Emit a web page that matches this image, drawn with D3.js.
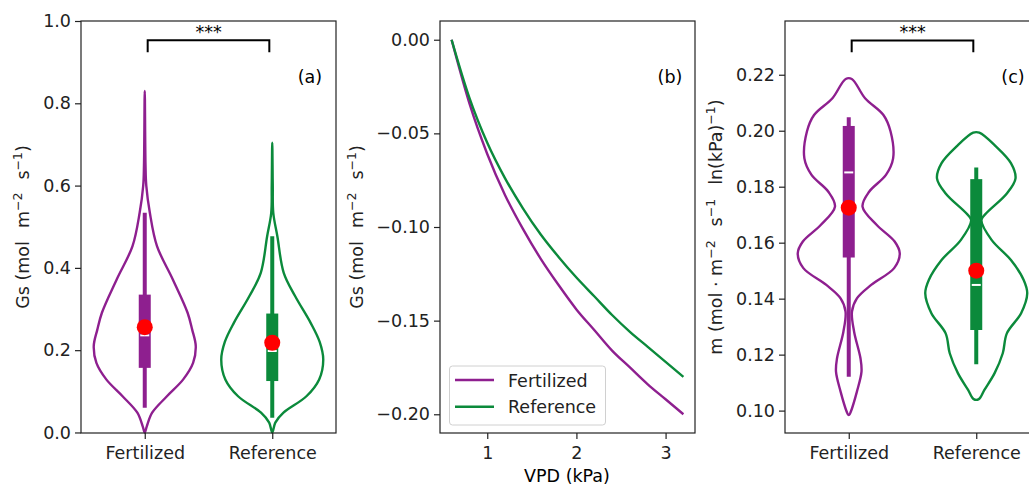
<!DOCTYPE html>
<html>
<head>
<meta charset="utf-8">
<script src="https://cdn.jsdelivr.net/npm/d3@7"></script>
<style>
  html, body { margin: 0; padding: 0; background: #fff; }
  svg { display: block; font-family: "DejaVu Sans", sans-serif; }
</style>
</head>
<body>
<svg id="chart" width="1029" height="485"></svg>
<script>
// ---------------- DATA ----------------
const groups = ["Fertilized", "Reference"];

// Panel (a): Gs violin outlines (value, relative density)
const gsFertV = [0, 0.015, 0.048, 0.088, 0.129, 0.169, 0.21, 0.25, 0.291, 0.372, 0.453, 0.534, 0.60, 0.65, 0.83];
const gsFertD = [0, 0.04, 0.145, 0.435, 0.755, 0.948, 1.0, 0.93, 0.84, 0.55, 0.24, 0.10, 0.03, 0.015, 0];
const gsRefV = [0, 0.024, 0.048, 0.088, 0.129, 0.177, 0.22, 0.267, 0.331, 0.388, 0.477, 0.534, 0.60, 0.704];
const gsRefD = [0, 0.06, 0.22, 0.67, 0.92, 1.0, 0.93, 0.75, 0.45, 0.225, 0.10, 0.02, 0.01, 0];
// Panel (a) box stats: [whiskerLow, Q1, median, Q3, whiskerHigh]
const gsFertBox = [0.060, 0.157, 0.236, 0.335, 0.534];
const gsRefBox = [0.036, 0.125, 0.198, 0.289, 0.477];
const gsMeans = [0.256, 0.218];
const gsTicks = [0.0, 0.2, 0.4, 0.6, 0.8, 1.0];

// Panel (b): Gs response vs VPD
const vpd = [0.6, 0.8, 1.0, 1.2, 1.4, 1.6, 1.8, 2.0, 2.2, 2.4, 2.6, 2.8, 3.0, 3.2];
const gsFertLine = [0, -0.034, -0.061, -0.083, -0.101, -0.117, -0.131, -0.144, -0.155, -0.166, -0.175, -0.184, -0.192, -0.200];
const gsRefLine = [0, -0.031, -0.055, -0.074, -0.090, -0.104, -0.116, -0.127, -0.137, -0.147, -0.156, -0.164, -0.172, -0.180];
const vpdTicks = [1, 2, 3];
const gsLineTicks = [0.00, -0.05, -0.10, -0.15, -0.20];

// Panel (c): m violin outlines
const mFertV = [0.0985, 0.0996, 0.1068, 0.1139, 0.1187, 0.1282, 0.1354, 0.1401, 0.1449, 0.1509, 0.1562, 0.1604, 0.1663, 0.1729, 0.1782, 0.1842, 0.1901, 0.1997, 0.2056, 0.2116, 0.2185];
const mFertD = [0.01, 0.04, 0.16, 0.25, 0.23, 0.105, 0.063, 0.16, 0.44, 0.89, 1.0, 0.90, 0.55, 0.27, 0.40, 0.73, 0.87, 0.82, 0.68, 0.32, 0.06];
const mRefV = [0.1041, 0.1074, 0.1134, 0.1205, 0.1276, 0.1348, 0.1419, 0.1467, 0.1538, 0.1610, 0.1681, 0.1705, 0.1776, 0.1830, 0.1884, 0.1943, 0.1993];
const mRefD = [0.05, 0.16, 0.36, 0.52, 0.60, 0.88, 1.0, 0.93, 0.68, 0.30, 0.10, 0.195, 0.60, 0.77, 0.68, 0.39, 0.06];
const mFertBox = [0.1121, 0.1547, 0.1851, 0.2017, 0.2048];
const mRefBox = [0.1166, 0.1288, 0.1449, 0.1827, 0.1869];
const mMeans = [0.1725, 0.1500];
const mTicks = [0.10, 0.12, 0.14, 0.16, 0.18, 0.20, 0.22];

const colors = ["#8e1f8f", "#0b8a3b"];

// ---------------- DRAWING ----------------
const svg = d3.select("#chart");
svg.append("rect").attr("width", 1029).attr("height", 485).attr("fill", "#fff");

const FS = 17.5;
const yTop = 21, yBot = 433;
const LW = 2.4;
const minus = s => s.replace(/-/g, "\u2212");

function frame(g, x0, x1) {
  g.append("rect").attr("x", x0).attr("y", yTop).attr("width", x1 - x0).attr("height", yBot - yTop)
    .attr("fill", "none").attr("stroke", "#222").attr("stroke-width", 1.2);
}
function styleAxis(sel) {
  sel.select(".domain").remove();
  sel.selectAll(".tick line").attr("stroke", "#222").attr("stroke-width", 1.2);
  sel.selectAll(".tick text").attr("fill", "#222").attr("font-size", FS).attr("font-family", "DejaVu Sans");
}

function violinPanel(x0, x1, yDomain, ticks, fmt, violins, boxes, means, bracket) {
  const g = svg.append("g");
  const x = d3.scaleLinear().domain([0.5, 2.5]).range([x0, x1]);
  const y = d3.scaleLinear().domain(yDomain).range([yBot, yTop]);
  const unit = x(1) - x(0);
  const half = 0.4;
  const path = d3.line().curve(d3.curveCatmullRomClosed.alpha(0.5));

  violins.forEach((vd, i) => {
    const [vals, dens] = vd;
    const cx = x(i + 1);
    const pts = [];
    vals.forEach((v, k) => pts.push([cx + dens[k] * half * unit, y(v)]));
    for (let k = vals.length - 1; k >= 0; k--) {
      const p = [cx - dens[k] * half * unit, y(vals[k])];
      const last = pts[pts.length - 1];
      if (Math.abs(p[0] - last[0]) > 0.01 || Math.abs(p[1] - last[1]) > 0.01) pts.push(p);
    }
    if (Math.abs(pts[pts.length - 1][0] - pts[0][0]) < 0.01 && Math.abs(pts[pts.length - 1][1] - pts[0][1]) < 0.01) pts.pop();
    g.append("path").attr("d", path(pts)).attr("fill", "none")
      .attr("stroke", colors[i]).attr("stroke-width", LW);
  });

  boxes.forEach((b, i) => {
    const cx = x(i + 1);
    g.append("line").attr("x1", cx).attr("x2", cx).attr("y1", y(b[0])).attr("y2", y(b[4]))
      .attr("stroke", colors[i]).attr("stroke-width", 4);
    g.append("rect").attr("x", cx - 6).attr("width", 12).attr("y", y(b[3])).attr("height", y(b[1]) - y(b[3]))
      .attr("fill", colors[i]);
    g.append("line").attr("x1", cx - 4.5).attr("x2", cx + 4.5).attr("y1", y(b[2])).attr("y2", y(b[2]))
      .attr("stroke", "#fff").attr("stroke-width", 2);
  });
  means.forEach((m, i) => {
    g.append("circle").attr("cx", x(i + 1)).attr("cy", y(m)).attr("r", 8).attr("fill", "#ff0000");
  });

  // significance bracket
  const bl = x(1.023), br = x(1.977);
  g.append("path").attr("d", `M${bl},${y(bracket[1])}V${y(bracket[0])}H${br}V${y(bracket[1])}`)
    .attr("fill", "none").attr("stroke", "#000").attr("stroke-width", 2);
  g.append("text").attr("x", x(1.5)).attr("y", 38).attr("text-anchor", "middle")
    .attr("font-size", FS).attr("fill", "#000").text("***");

  frame(g, x0, x1);
  const ya = g.append("g").attr("transform", `translate(${x0},0)`)
    .call(d3.axisLeft(y).tickValues(ticks).tickFormat(fmt).tickSize(6).tickPadding(4));
  styleAxis(ya);
  const xa = g.append("g").attr("transform", `translate(0,${yBot})`)
    .call(d3.axisBottom(x).tickValues([1, 2]).tickFormat(d => groups[d - 1]).tickSize(6).tickPadding(7.5));
  styleAxis(xa);
  return g;
}

// Panel (a)
const gA = violinPanel(81, 336, [-0.0013, 1.0], gsTicks, d3.format(".1f"),
  [[gsFertV, gsFertD], [gsRefV, gsRefD]], [gsFertBox, gsRefBox], gsMeans, [0.953, 0.924]);
gA.append("text").attr("x", 310).attr("y", 83).attr("text-anchor", "middle").attr("font-size", FS).text("(a)");

// Panel (c)
const gC = violinPanel(785, 1040, [0.092, 0.2392], mTicks, d3.format(".2f"),
  [[mFertV, mFertD], [mRefV, mRefD]], [mFertBox, mRefBox], mMeans, [0.2322, 0.2280]);
gC.append("text").attr("x", 1013).attr("y", 83).attr("text-anchor", "middle").attr("font-size", FS).text("(c)");

// Panel (b)
(function () {
  const x0 = 440, x1 = 695;
  const g = svg.append("g");
  const x = d3.scaleLinear().domain([0.47, 3.33]).range([x0, x1]);
  const y = d3.scaleLinear().domain([-0.21, 0.01]).range([yBot, yTop]);
  const line = d3.line().x(d => x(d[0])).y(d => y(d[1])).curve(d3.curveMonotoneX);
  [gsFertLine, gsRefLine].forEach((s, i) => {
    g.append("path").attr("d", line(vpd.map((v, k) => [v, s[k]]))).attr("fill", "none")
      .attr("stroke", colors[i]).attr("stroke-width", LW);
  });
  frame(g, x0, x1);
  const ya = g.append("g").attr("transform", `translate(${x0},0)`)
    .call(d3.axisLeft(y).tickValues(gsLineTicks).tickFormat(d => minus(d3.format(".2f")(d))).tickSize(6).tickPadding(4));
  styleAxis(ya);
  const xa = g.append("g").attr("transform", `translate(0,${yBot})`)
    .call(d3.axisBottom(x).tickValues(vpdTicks).tickFormat(d3.format("d")).tickSize(6).tickPadding(7.5));
  styleAxis(xa);
  g.append("text").attr("x", 670).attr("y", 83).attr("text-anchor", "middle").attr("font-size", FS).text("(b)");
  g.append("text").attr("x", 567).attr("y", 481.5).attr("text-anchor", "middle").attr("font-size", FS).text("VPD (kPa)");

  // legend
  const lg = g.append("g");
  lg.append("rect").attr("x", 449.5).attr("y", 366).attr("width", 156).attr("height", 59).attr("rx", 3)
    .attr("fill", "#fff").attr("fill-opacity", 0.8).attr("stroke", "#d0d0d0").attr("stroke-width", 1);
  groups.forEach((name, i) => {
    const ly = 380 + i * 26.7;
    lg.append("line").attr("x1", 455).attr("x2", 494).attr("y1", ly).attr("y2", ly)
      .attr("stroke", colors[i]).attr("stroke-width", LW);
    lg.append("text").attr("x", 508).attr("y", ly + 6.5).attr("font-size", FS).attr("fill", "#222").text(name);
  });
})();

// Y-axis labels with superscripts
function yLabel(xBase, parts) {
  const t = svg.append("text").attr("transform", `translate(${xBase},227) rotate(-90)`)
    .attr("text-anchor", "middle").attr("font-size", FS).attr("fill", "#222");
  let shift = 0;
  parts.forEach(p => {
    const ts = t.append("tspan").text(p.t);
    const target = p.sup ? -7.5 : 0;
    ts.attr("dy", target - shift);
    shift = target;
    if (p.sup) ts.attr("font-size", 12.5);
    if (p.dx) ts.attr("dx", p.dx);
  });
}
const gsLabelParts = [
  { t: "Gs (mol" }, { t: "m", dx: 13 }, { t: "\u22122", sup: true }, { t: "s", dx: 13 }, { t: "\u22121", sup: true }, { t: ")" }
];
yLabel(29, gsLabelParts);
yLabel(363, gsLabelParts);
yLabel(722, [
  { t: "m (mol \u00b7 m" }, { t: "\u22122", sup: true }, { t: "s", dx: 14 }, { t: "\u22121", sup: true },
  { t: "ln(kPa)", dx: 14 }, { t: "\u22121", sup: true }, { t: ")" }
]);
</script>
</body>
</html>
